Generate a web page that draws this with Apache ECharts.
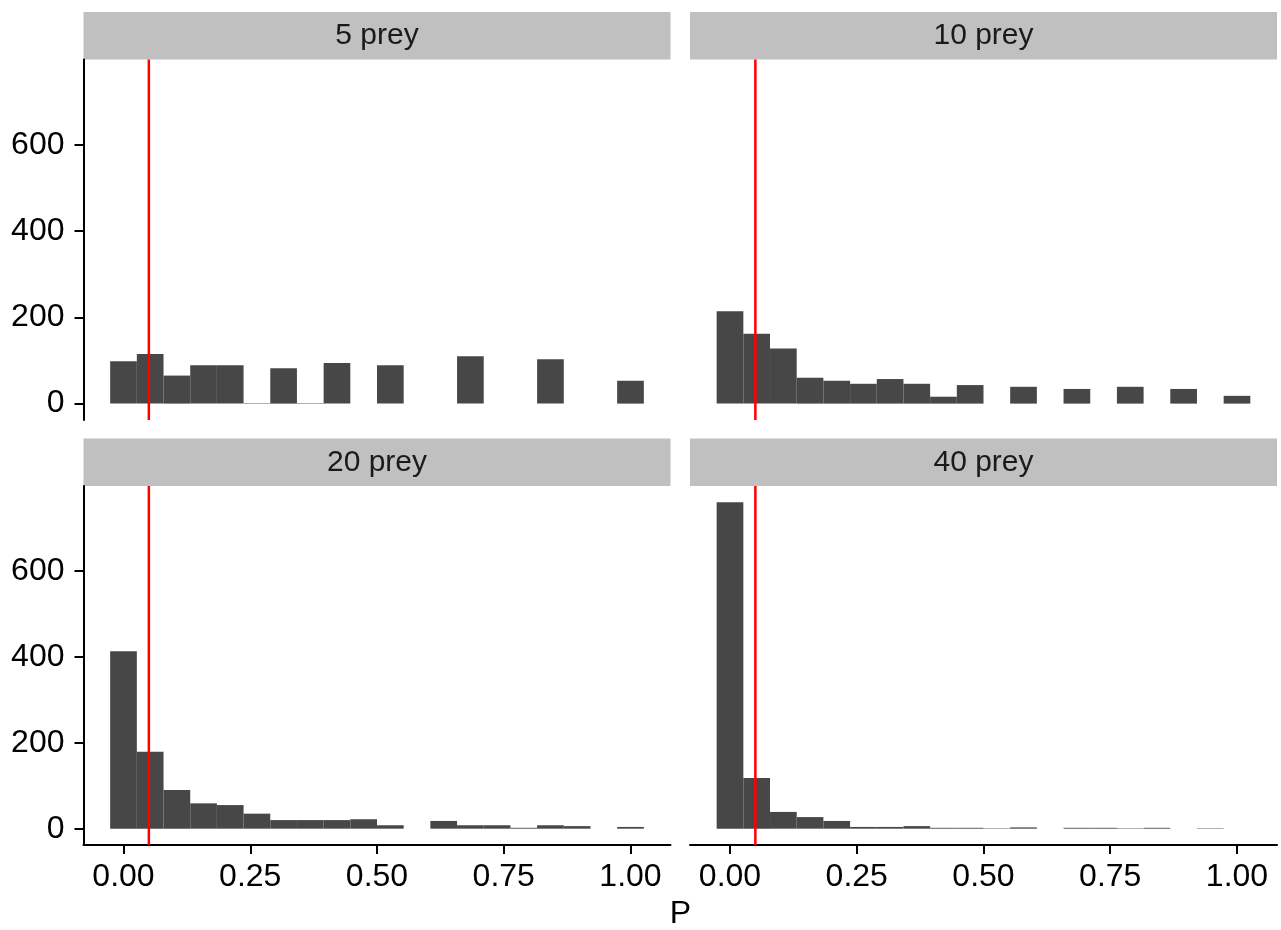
<!DOCTYPE html>
<html>
<head>
<meta charset="utf-8">
<script src="https://cdn.jsdelivr.net/npm/echarts@6/dist/echarts.min.js"></script>
<style>
  html, body { margin: 0; padding: 0; background: #fff; }
  #chart { width: 1281px; height: 930px; }
</style>
</head>
<body>
<div id="chart"></div>
<script>
// facet labels
const panels = ['5 prey', '10 prey', '20 prey', '40 prey'];
// histogram counts, 20 bins centred on k/19 (k = 0..19)
const prey5 = [98, 115, 65, 89, 89, 1, 82, 1, 94, 0, 89, 0, 0, 110, 0, 0, 103, 0, 0, 53];
const prey10 = [214, 162, 128, 60, 53, 46, 57, 46, 16, 43, 0, 39, 0, 34, 0, 39, 0, 34, 0, 18];
const prey20 = [413, 179, 90, 59, 55, 35, 20, 20, 20, 22, 8, 0, 18, 8, 8, 2, 8, 6, 0, 4];
const prey40 = [760, 118, 39, 27, 18, 4, 4, 6, 2, 2, 1, 3, 0, 2, 2, 1, 2, 0, 1, 0];
const counts = [prey5, prey10, prey20, prey40];
const binWidth = 1 / 19;
const cutoff = 0.05;
const xTicks = [0, 0.25, 0.5, 0.75, 1];
const yTicks = [0, 200, 400, 600];

const chart = echarts.init(document.getElementById('chart'), null, { renderer: 'canvas' });

const font = 'Liberation Sans, Arial, Helvetica, sans-serif';
const xMin = -0.0789, xMax = 1.0789;
const yMin = -38, yMax = 798;

// panel boxes
const boxes = [
  { left: 83.5, top: 59.5, width: 587, height: 360.5 },
  { left: 690, top: 59.5, width: 587, height: 360.5 },
  { left: 83.5, top: 486, width: 587, height: 359 },
  { left: 690, top: 486, width: 587, height: 359 }
];

const grid = boxes.map(b => ({
  left: b.left, top: b.top, width: b.width, height: b.height,
  containLabel: false, outerBoundsMode: 'none'
}));

const xAxis = boxes.map((b, i) => ({
  type: 'value', gridIndex: i, min: xMin, max: xMax,
  show: i >= 2,
  splitLine: { show: false },
  axisLine: { show: true, onZero: false, lineStyle: { color: '#000', width: 2 } },
  axisTick: { show: true, length: 9, lineStyle: { color: '#000', width: 2 }, customValues: xTicks },
  axisLabel: {
    show: true, customValues: xTicks, margin: 16,
    color: '#000', fontSize: 32, fontFamily: font,
    formatter: v => v.toFixed(2)
  }
}));

const yAxis = boxes.map((b, i) => ({
  type: 'value', gridIndex: i, min: yMin, max: yMax,
  show: i % 2 === 0,
  splitLine: { show: false },
  axisLine: { show: true, onZero: false, lineStyle: { color: '#000', width: 2 } },
  axisTick: { show: true, length: 9, lineStyle: { color: '#000', width: 2 }, customValues: yTicks },
  axisLabel: {
    show: true, customValues: yTicks, margin: 19,
    color: '#000', fontSize: 32, fontFamily: font
  }
}));

const series = [];
counts.forEach((arr, i) => {
  series.push({
    type: 'custom',
    xAxisIndex: i, yAxisIndex: i,
    data: arr.map((c, k) => [k / 19, c]),
    renderItem: (params, api) => {
      const c = api.value(0);
      const p0 = api.coord([c - binWidth / 2, 0]);
      const p1 = api.coord([c + binWidth / 2, api.value(1)]);
      return {
        type: 'rect',
        shape: { x: p0[0], y: p1[1], width: p1[0] - p0[0], height: p0[1] - p1[1] },
        style: { fill: '#474747' }
      };
    },
    silent: true
  });
  series.push({
    type: 'line',
    xAxisIndex: i, yAxisIndex: i,
    data: [[cutoff, yMin], [cutoff, yMax]],
    symbol: 'none',
    lineStyle: { color: '#ff0000', width: 2.5 },
    z: 5, silent: true
  });
});

// facet strips
const graphic = [];
boxes.forEach((b, i) => {
  const stripTop = b.top - 47.5;
  graphic.push({
    type: 'rect',
    shape: { x: b.left, y: stripTop, width: b.width, height: 47.5 },
    style: { fill: '#c0c0c0' },
    silent: true
  });
  graphic.push({
    type: 'text',
    x: b.left + b.width / 2, y: stripTop + 24,
    style: {
      text: panels[i], fill: '#1a1a1a', fontSize: 30, fontFamily: font,
      align: 'center', verticalAlign: 'middle'
    },
    silent: true
  });
});
graphic.push({
  type: 'text',
  x: 680.5, y: 914,
  style: {
    text: 'P', fill: '#000', fontSize: 32, fontFamily: font,
    align: 'center', verticalAlign: 'middle'
  },
  silent: true
});

chart.setOption({
  backgroundColor: '#fff',
  animation: false,
  grid: grid,
  xAxis: xAxis,
  yAxis: yAxis,
  series: series,
  graphic: graphic
});
</script>
</body>
</html>
